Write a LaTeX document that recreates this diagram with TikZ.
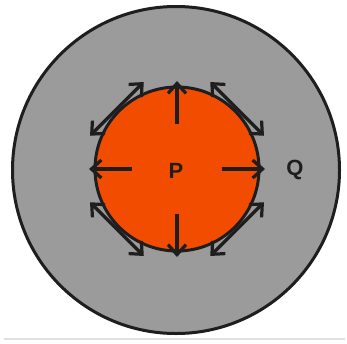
\documentclass[tikz,border=0pt]{standalone}
\usepackage{fontspec}
\setmainfont{Liberation Sans}
\usetikzlibrary{arrows.meta}
\definecolor{outergray}{HTML}{9B9B9B}
\definecolor{innerred}{HTML}{F24C00}
\definecolor{edge}{HTML}{1E1E1E}
\begin{document}
\begin{tikzpicture}[x=1pt,y=-1pt,
  barb/.tip={Straight Barb[length=10pt,width=18pt,line width=3.2pt]},
  vec/.style={draw=edge,line width=3.4pt,-barb},
  dvec/.style={draw=edge,line width=3.4pt,barb-barb},
  lbl/.style={font=\fontsize{22}{22}\selectfont\bfseries,text=edge,inner sep=0pt}]
\useasboundingbox (0,0) rectangle (347,343);
\fill[white] (0,0) rectangle (347,343);
\draw[line width=1.5pt,black!12] (4,339) -- (345,339);
\node[circle,minimum size=327pt,fill=outergray,draw=edge,line width=3pt,inner sep=0pt] (Q) at (176,170) {};
\node[circle,minimum size=164pt,fill=innerred,draw=edge,line width=3pt,inner sep=0pt] (P) at (177,169) {};
\node[lbl] (plabel) at (176,171) {P};
\node[lbl] (qlabel) at (295,170) {Q};
% radial arrows
\foreach \a/\n in {0/e,90/s,180/w,270/n}{
  \coordinate (s\n) at ([shift={(\a:45)}]P.center);
  \coordinate (t\n) at ([shift={(\a:88)}]P.center);
  \draw[vec] (s\n) -- (t\n);
}
% tangential double arrows
\foreach \a/\n in {45/se,135/sw,225/nw,315/ne}{
  \coordinate (m\n) at ([shift={(\a:85)}]P.center);
  \coordinate (a\n) at ([shift={(\a+90:38)}]m\n);
  \coordinate (b\n) at ([shift={(\a-90:38)}]m\n);
  \draw[dvec] (a\n) -- (b\n);
}
\end{tikzpicture}
\end{document}
